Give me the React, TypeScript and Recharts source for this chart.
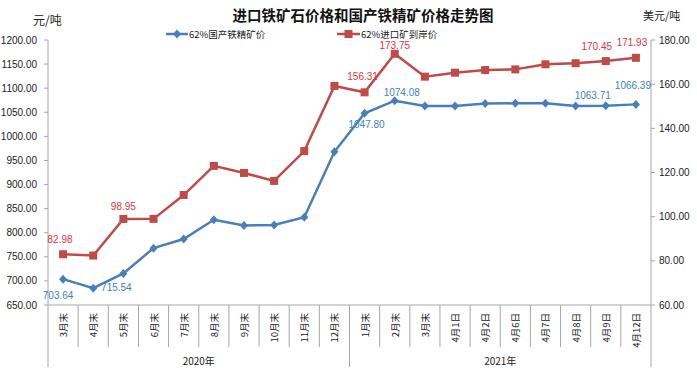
import React from 'react';
import { LineChart, Line, XAxis, YAxis, Legend, LabelList } from 'recharts';

const categories = ['3月末', '4月末', '5月末', '6月末', '7月末', '8月末', '9月末', '10月末', '11月末', '12月末', '1月末', '2月末', '3月末', '4月1日', '4月2日', '4月6日', '4月7日', '4月8日', '4月9日', '4月12日'];
const years = ['2020年', '2021年'];
const domesticPrice = [703.64, 685, 715.54, 768, 787, 827, 815, 816, 832, 968, 1047.8, 1074.08, 1063, 1063, 1068, 1068.6, 1068.6, 1063, 1063.71, 1066.39];
const importPrice = [82.98, 82.4, 98.95, 99.0, 109.8, 123.0, 119.8, 116.2, 129.7, 159.2, 156.31, 173.75, 163.4, 165.2, 166.4, 166.7, 169.0, 169.5, 170.45, 171.93];
const leftTicks = [650, 700, 750, 800, 850, 900, 950, 1000, 1050, 1100, 1150, 1200];
const rightTicks = [60, 80, 100, 120, 140, 160, 180];
const seriesNames = ['62%国产铁精矿价', '62%进口矿到岸价'];
const titleText = '进口铁矿石价格和国产铁精矿价格走势图';

const data = categories.map((c, i) => ({ idx: i, domestic: domesticPrice[i], imported: importPrice[i] }));
// axis ticks: integers carry category labels, half-integers carry separators
const xTicks: number[] = [];
for (let i = 0; i < categories.length; i++) { xTicks.push(i - 0.5); xTicks.push(i); }
xTicks.push(categories.length - 0.5);
const groupBounds = [-0.5, 9.5, 19.5];
const yearCenters = [4.5, 14.5];

const BLUE = '#4a7ebb';
const RED = '#be4b48';
const BLUE_TXT = '#3b82c4';
const RED_TXT = '#e5333a';
const AXIS = '#a6a6a6';
const FONT = '"Liberation Sans", Arial, "Noto Sans CJK SC", sans-serif';
const CJK = '"Noto Sans CJK SC", "Liberation Sans", sans-serif';

const blueLabels: Record<number, [number, number]> = { 0: [-5, 16], 2: [-7, 14], 10: [2, 11], 11: [7, -8], 18: [-13, -10], 19: [-3, -19] };
const redLabels: Record<number, [number, number]> = { 0: [-3, -15], 2: [0, -12], 10: [-2, -16], 11: [0, -8], 18: [-9, -15], 19: [-4, -15] };

const makeLabel = (cfg: Record<number, [number, number]>, color: string) => (props: any) => {
  const { x, y, value, index } = props;
  const o = cfg[index];
  if (!o) return null;
  return (
    <text x={x + o[0]} y={y + o[1]} textAnchor="middle" dominantBaseline="central" fontSize={10} fontFamily={FONT} fill={color}>
      {Number(value).toFixed(2)}
    </text>
  );
};

const Diamond = (props: any) => {
  const { cx, cy, index } = props;
  if (cx == null || cy == null) return <g key={index} />;
  return <path key={index} d={`M${cx},${cy - 4.5}L${cx + 4},${cy}L${cx},${cy + 4.5}L${cx - 4},${cy}Z`} fill={BLUE} />;
};
const Square = (props: any) => {
  const { cx, cy, index } = props;
  if (cx == null || cy == null) return <g key={index} />;
  return <rect key={index} x={cx - 4} y={cy - 4} width={8} height={8} fill={RED} />;
};

const XTick = (props: any) => {
  const { x, y, payload } = props;
  const v = payload.value as number;
  const isCat = Number.isInteger(v);
  if (isCat) {
    return (
      <text transform={`translate(${x},${y + 8}) rotate(-90)`} textAnchor="end" dominantBaseline="central" fontSize={9.5} fontFamily={CJK} fill="#222">
        {categories[v]}
      </text>
    );
  }
  const isGroup = groupBounds.includes(v);
  const yi = yearCenters.indexOf(v);
  return (
    <g>
      <line x1={x} y1={y} x2={x} y2={y + (isGroup ? 62 : 42)} stroke={AXIS} />
      {yi >= 0 && (
        <text x={x} y={y + 55} textAnchor="middle" dominantBaseline="central" fontSize={10} fontFamily={CJK} fill="#222">
          {years[yi]}
        </text>
      )}
    </g>
  );
};

const LegendContent = () => (
  <div style={{ position: 'relative', width: 697, height: 16, fontFamily: CJK, fontSize: 9.5, color: '#222' }}>
    <div style={{ position: 'absolute', left: 166, top: 0, display: 'flex', alignItems: 'center', height: 16 }}>
      <svg width={22} height={10}>
        <line x1={0} y1={5} x2={22} y2={5} stroke={BLUE} strokeWidth={2.5} />
        <path d="M11,0.5L15,5L11,9.5L7,5Z" fill={BLUE} />
      </svg>
      <span style={{ marginLeft: 1 }}>{seriesNames[0]}</span>
    </div>
    <div style={{ position: 'absolute', left: 337, top: 0, display: 'flex', alignItems: 'center', height: 16 }}>
      <svg width={23} height={10}>
        <line x1={0} y1={5} x2={23} y2={5} stroke={RED} strokeWidth={2.5} />
        <rect x={7.5} y={1} width={8} height={8} fill={RED} />
      </svg>
      <span style={{ marginLeft: 1 }}>{seriesNames[1]}</span>
    </div>
  </div>
);

export default function App() {
  return (
    <div style={{ position: 'absolute', left: 0, top: 0, width: 697, height: 374, background: '#fff', overflow: 'hidden' }}>
      <div style={{ position: 'absolute', left: 163, width: 400, top: 5, textAlign: 'center', fontFamily: CJK, fontWeight: 'bold', fontSize: 14.5, lineHeight: '20px', color: '#111' }}>
        {titleText}
      </div>
      <div style={{ position: 'absolute', left: 33, top: 12, fontFamily: CJK, fontSize: 12, lineHeight: '16px', color: '#222' }}>元/吨</div>
      <div style={{ position: 'absolute', left: 643, top: 7, fontFamily: CJK, fontSize: 11, lineHeight: '16px', color: '#222' }}>美元/吨</div>
      <LineChart width={697} height={374} data={data} margin={{ top: 40, right: 0, bottom: 0, left: 0 }}>
        <XAxis xAxisId="cat" type="number" dataKey="idx" domain={[-0.5, 19.5]} ticks={xTicks} height={69} axisLine={{ stroke: AXIS }} tickSize={0} tickMargin={0} tickLine={false} tick={XTick} interval={0} />
        <YAxis yAxisId="left" orientation="left" width={48} domain={[650, 1200]} ticks={leftTicks} interval={0} axisLine={{ stroke: AXIS }} tickLine={{ stroke: AXIS }} tickSize={4} tickMargin={7} tickFormatter={(v: number) => v.toFixed(2)} tick={{ fontSize: 10, fontFamily: FONT, fill: '#222' }} />
        <YAxis yAxisId="right" orientation="right" width={46} domain={[60, 180]} ticks={rightTicks} interval={0} axisLine={{ stroke: AXIS }} tickLine={{ stroke: AXIS }} tickSize={4} tickMargin={4} tickFormatter={(v: number) => v.toFixed(2)} tick={{ fontSize: 10, fontFamily: FONT, fill: '#222' }} />
        <Legend layout="horizontal" verticalAlign="middle" align="center" wrapperStyle={{ left: 0, top: 26, width: 697 }} content={LegendContent} />
        <Line xAxisId="cat" yAxisId="left" dataKey="domestic" stroke={BLUE} strokeWidth={2.5} dot={Diamond} activeDot={false} isAnimationActive={false}>
          <LabelList dataKey="domestic" content={makeLabel(blueLabels, BLUE_TXT)} />
        </Line>
        <Line xAxisId="cat" yAxisId="right" dataKey="imported" stroke={RED} strokeWidth={2.5} dot={Square} activeDot={false} isAnimationActive={false}>
          <LabelList dataKey="imported" content={makeLabel(redLabels, RED_TXT)} />
        </Line>
      </LineChart>
    </div>
  );
}
